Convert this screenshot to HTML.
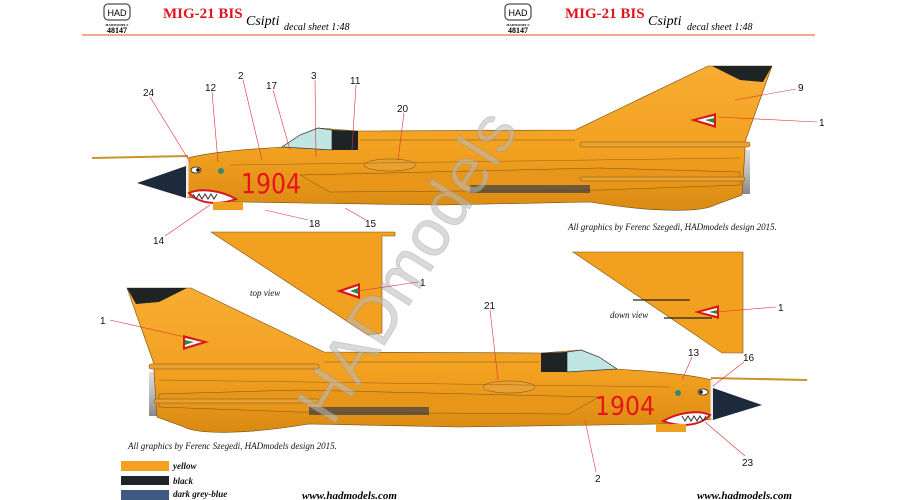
<!DOCTYPE html>
<html><head><meta charset="utf-8"><style>
html,body{margin:0;padding:0;background:#fff;}
svg{display:block;}
.lb{font-family:"Liberation Sans",sans-serif;font-size:10px;fill:#111;}
.it{font-family:"Liberation Serif",serif;font-style:italic;font-size:9px;fill:#111;}
</style></head><body>
<svg width="900" height="500" viewBox="0 0 900 500" xmlns="http://www.w3.org/2000/svg">
<defs>
<linearGradient id="body" x1="0" y1="0" x2="0" y2="1">
<stop offset="0" stop-color="#f7ad33"/><stop offset="0.6" stop-color="#f2a020"/><stop offset="1" stop-color="#d98a12"/>
</linearGradient>
<linearGradient id="exh" x1="0" y1="0" x2="0" y2="1">
<stop offset="0" stop-color="#ddd"/><stop offset="0.5" stop-color="#bbb"/><stop offset="1" stop-color="#888"/>
</linearGradient>
<g id="jet">
<line x1="92" y1="158" x2="188" y2="156" stroke="#c9922a" stroke-width="2"/>
<rect x="738" y="150" width="12" height="44" fill="url(#exh)"/>
<path d="M187,158 C220,150 260,149 282,147 L300,135 L318,128 L358,131 L575,130 L708,66 L772,66 L745,142 L745,150 L742,195 L715,205 C700,213 650,212 590,202 L440,205 L300,203 L240,202 L205,200 L187,197 Z" fill="url(#body)" stroke="#6b4a10" stroke-width="0.6"/>
<path d="M300,175 L600,168 L740,172 L740,185 L600,190 L330,192 Z" fill="#e8961a" stroke="#7a5512" stroke-width="0.5"/>
<rect x="470" y="185" width="120" height="8" fill="#3a3d45" opacity="0.7"/>
<ellipse cx="390" cy="165" rx="26" ry="6" fill="#e9a030" stroke="#7a5512" stroke-width="0.5"/>
<rect x="580" y="142" width="170" height="5" rx="2" fill="#e9a030" stroke="#7a5512" stroke-width="0.5"/>
<rect x="580" y="177" width="165" height="4" rx="2" fill="#e9a030" stroke="#7a5512" stroke-width="0.5"/>
<line x1="360" y1="140" x2="575" y2="140" stroke="#7a5512" stroke-width="0.5"/>
<line x1="230" y1="165" x2="740" y2="158" stroke="#7a5512" stroke-width="0.4"/>
<polygon points="282,147 300,135 318,128 332,130 332,150" fill="#bfe6e4" stroke="#333" stroke-width="0.7"/>
<polygon points="332,130 358,131 358,150 332,150" fill="#1e2326"/>
<polygon points="712,66 772,66 763,82 740,80" fill="#1e2326"/>
<path d="M187,158 L187,197" stroke="#eee" stroke-width="3"/>
<polygon points="186,166 137,183 186,198" fill="#1d2a3b"/>
<path d="M189,193 C200,188 220,190 236,199 C220,205 200,205 189,193 Z" fill="#fff" stroke="#d6181e" stroke-width="2"/>
<path d="M193,194 l3,5 l3,-5 l3,5 l3,-5 l3,5 l3,-5 l3,5 l3,-5" fill="none" stroke="#333" stroke-width="1"/>
<ellipse cx="196" cy="170" rx="5" ry="3" fill="#fff" stroke="#222" stroke-width="0.8"/>
<circle cx="198" cy="170" r="1.8" fill="#111"/>
<circle cx="221" cy="171" r="3" fill="#2e8a7a"/>
<rect x="213" y="202" width="30" height="8" fill="#f0a020"/>
<polygon points="716,113 690,120 716,128" fill="#d6181e"/>
<polygon points="714,116 697,120 714,125" fill="#fff"/>
<polygon points="714,118 705,120 714,123" fill="#2c8a3a"/>
</g>
</defs>

<!-- header -->
<g>
<rect x="104" y="4" width="26" height="16" rx="4" fill="none" stroke="#222" stroke-width="1"/>
<text x="117" y="16" text-anchor="middle" style="font-family:'Liberation Sans',sans-serif;font-size:9px">HAD</text>
<text x="117" y="26" text-anchor="middle" style="font-family:'Liberation Serif',serif;font-size:3.5px;font-weight:bold">HADMODELS</text>
<text x="117" y="33" text-anchor="middle" style="font-family:'Liberation Serif',serif;font-size:8px;font-weight:bold">48147</text>
<text x="163" y="18" style="font-family:'Liberation Serif',serif;font-size:15px;font-weight:bold;fill:#e0141c">MIG-21 BIS</text>
<text x="246" y="25" style="font-family:'Liberation Serif',serif;font-style:italic;font-size:14px">Csipti</text>
<text x="284" y="30" style="font-family:'Liberation Serif',serif;font-style:italic;font-size:10px">decal sheet 1:48</text>

<rect x="505" y="4" width="26" height="16" rx="4" fill="none" stroke="#222" stroke-width="1"/>
<text x="518" y="16" text-anchor="middle" style="font-family:'Liberation Sans',sans-serif;font-size:9px">HAD</text>
<text x="518" y="26" text-anchor="middle" style="font-family:'Liberation Serif',serif;font-size:3.5px;font-weight:bold">HADMODELS</text>
<text x="518" y="33" text-anchor="middle" style="font-family:'Liberation Serif',serif;font-size:8px;font-weight:bold">48147</text>
<text x="565" y="18" style="font-family:'Liberation Serif',serif;font-size:15px;font-weight:bold;fill:#e0141c">MIG-21 BIS</text>
<text x="648" y="25" style="font-family:'Liberation Serif',serif;font-style:italic;font-size:14px">Csipti</text>
<text x="687" y="30" style="font-family:'Liberation Serif',serif;font-style:italic;font-size:10px">decal sheet 1:48</text>
<line x1="82" y1="35" x2="815" y2="35" stroke="#f08a6a" stroke-width="1.5"/>
</g>

<!-- wings -->
<polygon points="211,232 395,232 395,236 382,236 382,333 368,335" fill="#f2a020" stroke="#7a5512" stroke-width="0.6"/>
<polygon points="573,252 743,252 743,353 722,353" fill="#f2a020" stroke="#7a5512" stroke-width="0.6"/>
<line x1="633" y1="300" x2="690" y2="300" stroke="#222" stroke-width="1.2"/>
<line x1="664" y1="318" x2="712" y2="318" stroke="#222" stroke-width="1.2"/>
<polygon points="360,283 336,291 360,299" fill="#d6181e"/><polygon points="358,286 343,291 358,296" fill="#fff"/><polygon points="358,288 350,291 358,294" fill="#2c8a3a"/>
<polygon points="719,305 694,312 719,319" fill="#d6181e"/><polygon points="717,308 701,312 717,316" fill="#fff"/><polygon points="717,310 709,312 717,314" fill="#2c8a3a"/>
<text x="250" y="296" class="it">top view</text>
<text x="610" y="318" class="it">down view</text>

<!-- jets -->
<use href="#jet"/>
<use href="#jet" transform="translate(899,222) scale(-1,1)"/>
<text x="241" y="193" textLength="60" lengthAdjust="spacingAndGlyphs" style="font-family:'DejaVu Sans',sans-serif;font-size:28px;fill:#e8141c">1904</text>
<text x="595" y="415" textLength="60" lengthAdjust="spacingAndGlyphs" style="font-family:'DejaVu Sans',sans-serif;font-size:26px;fill:#e8141c">1904</text>

<!-- watermark -->
<text x="405" y="290" text-anchor="middle" transform="rotate(-58 405 265)" style="font-family:'Liberation Sans',sans-serif;font-size:66px;fill:#bbb;opacity:0.55;stroke:#999;stroke-width:0.8">HADmodels</text>

<!-- leaders -->
<g stroke="#e0303a" stroke-width="0.6">
<line x1="150" y1="97" x2="190" y2="162"/><line x1="212" y1="92" x2="218" y2="162"/>
<line x1="243" y1="80" x2="262" y2="160"/><line x1="273" y1="90" x2="290" y2="150"/>
<line x1="315" y1="80" x2="316" y2="157"/><line x1="356" y1="85" x2="352" y2="150"/>
<line x1="404" y1="113" x2="398" y2="160"/><line x1="796" y1="89" x2="735" y2="100"/>
<line x1="817" y1="122" x2="718" y2="117"/><line x1="165" y1="236" x2="210" y2="205"/>
<line x1="308" y1="220" x2="265" y2="210"/><line x1="366" y1="220" x2="345" y2="208"/>
<line x1="418" y1="282" x2="358" y2="291"/><line x1="776" y1="307" x2="716" y2="312"/>
<line x1="110" y1="320" x2="185" y2="337"/><line x1="490" y1="310" x2="498" y2="380"/>
<line x1="692" y1="357" x2="682" y2="380"/><line x1="744" y1="362" x2="713" y2="386"/>
<line x1="596" y1="472" x2="585" y2="420"/><line x1="745" y1="456" x2="705" y2="422"/>
</g>
<g class="lb">
<text x="143" y="96">24</text><text x="205" y="91">12</text><text x="238" y="79">2</text>
<text x="266" y="89">17</text><text x="311" y="79">3</text><text x="350" y="84">11</text>
<text x="397" y="112">20</text><text x="798" y="91">9</text><text x="819" y="126">1</text>
<text x="153" y="244">14</text><text x="309" y="227">18</text><text x="365" y="227">15</text>
<text x="420" y="286">1</text><text x="778" y="311">1</text><text x="100" y="324">1</text>
<text x="484" y="309">21</text><text x="688" y="356">13</text><text x="743" y="361">16</text>
<text x="595" y="482">2</text><text x="742" y="466">23</text>
</g>

<!-- credits & legend -->
<text x="568" y="230" class="it">All graphics by Ferenc Szegedi, HADmodels design 2015.</text>
<text x="128" y="449" class="it">All graphics by Ferenc Szegedi, HADmodels design 2015.</text>
<rect x="121" y="461" width="48" height="10" fill="#f5a020"/>
<rect x="121" y="476" width="48" height="9" fill="#1f2428"/>
<rect x="121" y="490" width="48" height="10" fill="#3e5a80"/>
<text x="173" y="469" class="it" style="font-weight:bold">yellow</text>
<text x="173" y="484" class="it" style="font-weight:bold">black</text>
<text x="173" y="497" class="it" style="font-weight:bold">dark grey-blue</text>
<text x="302" y="499" style="font-family:'Liberation Serif',serif;font-style:italic;font-weight:bold;font-size:11px">www.hadmodels.com</text>
<text x="697" y="499" style="font-family:'Liberation Serif',serif;font-style:italic;font-weight:bold;font-size:11px">www.hadmodels.com</text>
</svg>
</body></html>
